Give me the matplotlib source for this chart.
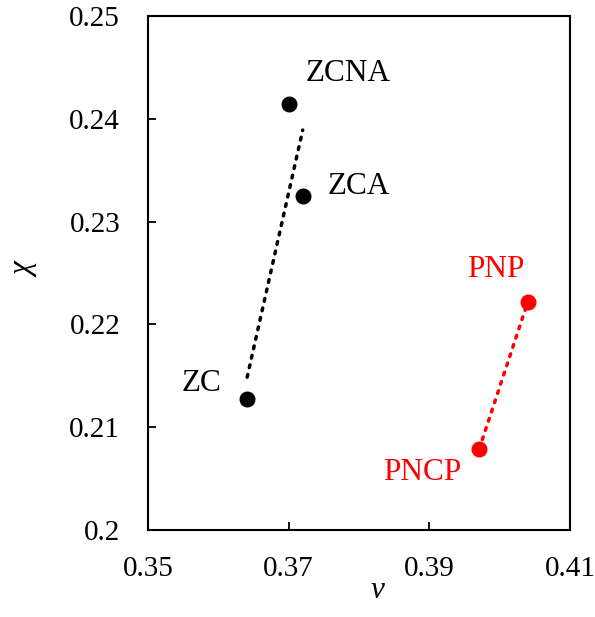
import numpy as np
from matplotlib import pyplot as plt

plt.rcParams['font.family'] = ['Liberation Serif', 'DejaVu Serif']

# ZC group (black)
zc_names = ["ZCNA", "ZCA", "ZC"]
zc_v = [0.3700, 0.3720, 0.3641]
zc_chi = [0.2414, 0.2325, 0.2127]

# PN group (red)
pn_names = ["PNP", "PNCP"]
pn_v = [0.4040, 0.3971]
pn_chi = [0.2222, 0.2079]

# label offsets in points (dx, dy)
zc_offs = [(43, 22), (40, 6.5), (-33, 11.5)]
pn_offs = [(-23, 23), (-41, -17)]

fig = plt.figure(figsize=(5.95, 6.17), dpi=100)
ax = fig.add_axes([0.2487, 0.141, 0.7093, 0.833])

def trend(xs, ys, col):
    # linear trendline over the x range of the data
    p = np.polyfit(xs, ys, 1)
    xx = np.array([min(xs), max(xs)])
    ax.plot(xx, np.polyval(p, xx), color=col, lw=2.5,
            linestyle=(0, (0.8, 2.0)), dash_capstyle='round', zorder=2)

trend(zc_v, zc_chi, 'black')
trend(pn_v, pn_chi, 'red')

ax.plot(zc_v, zc_chi, 'o', color='black', ms=10.5, zorder=3)
ax.plot(pn_v, pn_chi, 'o', color='red', ms=10.5, zorder=3)

fs = 22.5
for n, x, y, o in zip(zc_names, zc_v, zc_chi, zc_offs):
    ax.annotate(n, (x, y), xytext=o, textcoords='offset points',
                ha='center', va='center', fontsize=fs, color='black')
for n, x, y, o in zip(pn_names, pn_v, pn_chi, pn_offs):
    ax.annotate(n, (x, y), xytext=o, textcoords='offset points',
                ha='center', va='center', fontsize=fs, color='red')

ax.set_xlim(0.35, 0.41)
ax.set_ylim(0.2, 0.25)
ax.set_xticks([0.35, 0.37, 0.39, 0.41])
ax.set_xticklabels(["0.35", "0.37", "0.39", "0.41"])
ax.set_yticks([0.2, 0.21, 0.22, 0.23, 0.24, 0.25])
ax.set_yticklabels(["0.2", "0.21", "0.22", "0.23", "0.24", "0.25"])
ax.tick_params(direction='in', length=6, width=1.3, labelsize=21, pad=20)
ax.tick_params(axis='x', pad=19)
for s in ax.spines.values():
    s.set_linewidth(1.5)

ax.set_xlabel("v", fontsize=fs, fontstyle='italic')
ax.set_ylabel("χ", fontsize=fs, fontstyle='italic', rotation=90)
ax.xaxis.set_label_coords(0.545, -0.117)
ax.yaxis.set_label_coords(-0.291, 0.506)
ax.xaxis.label.set_va('center')
ax.yaxis.label.set_va('center')

fig.savefig("out.png", dpi=100)
